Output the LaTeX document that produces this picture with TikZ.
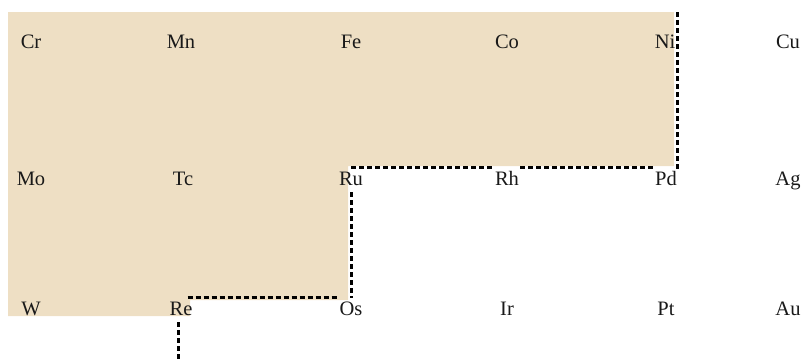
\documentclass[tikz,border=0pt]{standalone}
\usepackage{fontspec}
\setmainfont{Liberation Serif}
\definecolor{blockfill}{RGB}{238,223,196}
\tikzset{
    elem/.style={anchor=base,text=black!90,inner xsep=1pt,inner ysep=3pt,
        text height=14pt,text depth=4pt},
    border/.style={line width=3pt,dash pattern=on 5pt off 3pt,black}
}

\begin{document}
\begin{tikzpicture}[font=\fontsize{20.5}{24}\selectfont,x=1pt,y=-1pt]
    \useasboundingbox (0,0) rectangle (801,359);

    % Shaded block.
    \fill[blockfill] (8,12) -- (674,12) -- (674,166) -- (348,166)
        -- (348,300) -- (190,300) -- (190,316) -- (8,316) -- cycle;

    % Element symbols, one row at a time.
    \foreach \sym/\xx in {Cr/31,Mn/181,Fe/351,Co/507,Ni/665,Cu/788}{
        \node[elem] (\sym) at (\xx,48) {\sym};
    }
    \foreach \sym/\xx in {Mo/31,Tc/183,Ru/351,Rh/507,Pd/666,Ag/788}{
        \node[elem] (\sym) at (\xx,185) {\sym};
    }
    \foreach \sym/\xx in {W/31,Re/181,Os/351,Ir/507,Pt/666,Au/788}{
        \node[elem] (\sym) at (\xx,315) {\sym};
    }

    % Dashed border.
    \coordinate (top-end) at (677,12);
    \coordinate (bottom-end) at (178,359);
    \draw[border] (top-end) -- ([yshift=-4pt]top-end |- Pd.north);
    \draw[border] (Ru.north) -- (Rh.north west);
    \draw[border] (Rh.north east) -- (Pd.north west);
    \draw[border] (Ru.south) -- (Os.north);
    \draw[border] ([xshift=-6pt]Re.north east) -- (Os.north west);
    \draw[border] ([xshift=-3pt]Re.south) -- (bottom-end);
\end{tikzpicture}
\end{document}
